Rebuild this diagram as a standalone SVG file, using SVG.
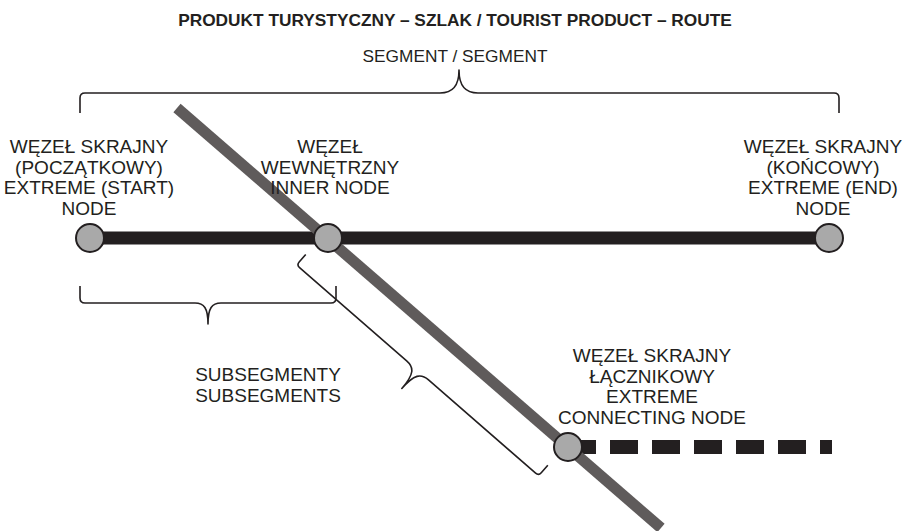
<svg xmlns="http://www.w3.org/2000/svg" width="911" height="531" viewBox="0 0 911 531">
  <style>
    text { font-family: "Liberation Sans", Arial, sans-serif; fill: #231f20; text-anchor: middle; }
    .title { font-size: 17.3px; font-weight: bold; }
    .seg { font-size: 17.3px; }
    .lbl { font-size: 19px; }
    .brace { fill: none; stroke: #231f20; stroke-width: 1.6; stroke-linejoin: round; }
    .route { stroke: #231f20; stroke-width: 13; fill: none; }
    .link { stroke: #231f20; stroke-width: 14; fill: none; stroke-dasharray: 28 14; }
    .cross { stroke: #5f5b5b; stroke-width: 11; fill: none; }
    .node { fill: #a9a9a9; stroke: #231f20; stroke-width: 2; }
  </style>

  <text class="title" x="455" y="26">PRODUKT TURYSTYCZNY – SZLAK / TOURIST PRODUCT – ROUTE</text>
  <text class="seg" x="455" y="62">SEGMENT / SEGMENT</text>

  <g id="connectors">
    <!-- segment brace -->
    <path class="brace" d="M80,113 V98 Q80,93 85,93 H440 C452,93 459,87 459,70 C459,87 466,93 478,93 H834 Q839,93 839,98 V113"/>
    <!-- subsegment brace along the route -->
    <path class="brace" d="M80,286 V298 Q80,303 85,303 H195 C204,303 208,308 208,324 C208,308 212,303 221,303 H331 Q336,303 336,298 V286"/>
    <!-- subsegment brace along the crossing route -->
    <path class="brace" transform="translate(328,238) rotate(41.05)" d="M-6,27 V37 Q-6,41 -2,41 H140 C150,41 154.5,46 154.5,65 C154.5,46 159,41 169,41 H311 Q315,41 315,37 V27"/>
    <!-- main route -->
    <line class="route" x1="90" y1="238" x2="829" y2="238"/>
    <!-- connecting route (dashed) -->
    <line class="link" x1="568" y1="447" x2="832" y2="447"/>
    <!-- crossing route -->
    <line class="cross" x1="177" y1="108" x2="661" y2="528"/>
  </g>

  <g id="node-start">
    <circle class="node" cx="90" cy="238" r="14"/>
    <text class="lbl" x="89" y="153">WĘZEŁ SKRAJNY</text>
    <text class="lbl" x="89" y="173.5">(POCZĄTKOWY)</text>
    <text class="lbl" x="89" y="194">EXTREME (START)</text>
    <text class="lbl" x="89" y="214.5">NODE</text>
  </g>

  <g id="node-inner">
    <circle class="node" cx="328" cy="238" r="14"/>
    <text class="lbl" x="330" y="153">WĘZEŁ</text>
    <text class="lbl" x="330" y="173.5">WEWNĘTRZNY</text>
    <text class="lbl" x="330" y="194">INNER NODE</text>
  </g>

  <g id="node-end">
    <circle class="node" cx="829" cy="238" r="14"/>
    <text class="lbl" x="823" y="153">WĘZEŁ SKRAJNY</text>
    <text class="lbl" x="823" y="173.5">(KOŃCOWY)</text>
    <text class="lbl" x="823" y="194">EXTREME (END)</text>
    <text class="lbl" x="823" y="214.5">NODE</text>
  </g>

  <g id="node-connecting">
    <circle class="node" cx="568" cy="447" r="14"/>
    <text class="lbl" x="652" y="362">WĘZEŁ SKRAJNY</text>
    <text class="lbl" x="652" y="382.5">ŁĄCZNIKOWY</text>
    <text class="lbl" x="652" y="403">EXTREME</text>
    <text class="lbl" x="652" y="423.5">CONNECTING NODE</text>
  </g>

  <g id="subsegments-label">
    <text class="lbl" x="268" y="381">SUBSEGMENTY</text>
    <text class="lbl" x="268" y="401.5">SUBSEGMENTS</text>
  </g>
</svg>
